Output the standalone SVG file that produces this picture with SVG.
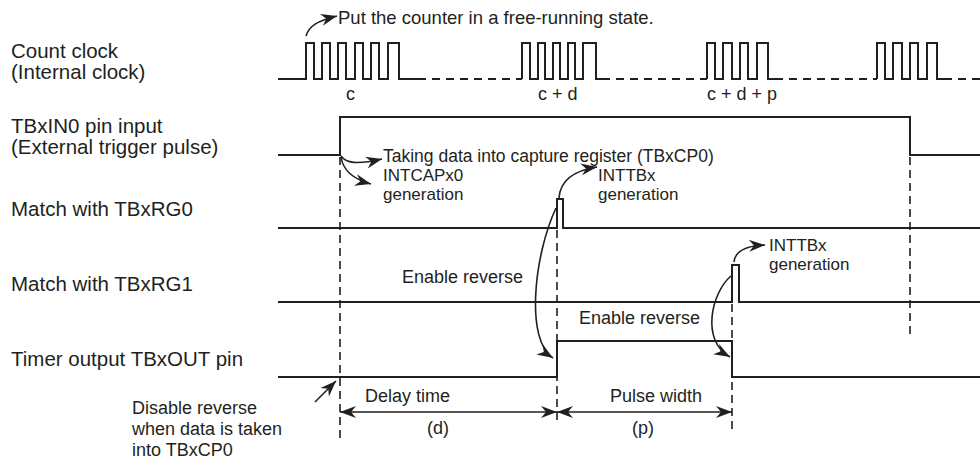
<svg xmlns="http://www.w3.org/2000/svg" width="980" height="461" viewBox="0 0 980 461">
<style>
text{font-family:"Liberation Sans",Arial,sans-serif;fill:#231f20}
.lbl{font-size:20.5px}
.ann{font-size:18px}
.stk{font-size:17px}
.sig{fill:none;stroke:#231f20;stroke-width:2;stroke-linejoin:miter}
.dsh{fill:none;stroke:#231f20;stroke-width:2;stroke-dasharray:8 6}
.vd{fill:none;stroke:#231f20;stroke-width:1.6;stroke-dasharray:8 5}
.arr{fill:none;stroke:#231f20;stroke-width:1.6;marker-end:url(#ah)}
.dim{fill:none;stroke:#231f20;stroke-width:1.6;marker-start:url(#ah);marker-end:url(#ah)}
</style>
<defs>
<marker id="ah" viewBox="-17 -7 18 14" refX="0" refY="0" markerWidth="18" markerHeight="14" markerUnits="userSpaceOnUse" orient="auto-start-reverse">
<path d="M0,0 L-16,-6 L-11,0 L-16,6 Z" fill="#231f20"/>
</marker>
</defs>
<rect width="980" height="461" fill="#fff"/>

<g id="labels">
<text class="lbl" x="11" y="58">Count clock</text>
<text class="lbl" x="11" y="79">(Internal clock)</text>
<text class="lbl" x="11" y="133">TBxIN0 pin input</text>
<text class="lbl" x="11" y="154">(External trigger pulse)</text>
<text class="lbl" x="11" y="216">Match with TBxRG0</text>
<text class="lbl" x="11" y="291">Match with TBxRG1</text>
<text class="lbl" x="11" y="366">Timer output TBxOUT pin</text>
</g>

<g id="guides">
<path class="vd" d="M340,157 V438"/>
<path class="vd" d="M557,230 V424"/>
<path class="vd" d="M732,304 V434"/>
<path class="vd" d="M910,157 V336"/>
</g>

<g id="count-clock">
<path class="sig" d="M278,79 H306 V43 H314 V79 H322 V43 H330 V79 H338 V43 H346 V79 H355 V43 H363 V79 H371 V43 H379 V79 H388 V43 H399 V79 H418"/>
<path class="dsh" d="M418,79 H522"/>
<path class="sig" d="M522,79 V43 H530 V79 H538 V43 H545 V79 H553 V43 H560 V79 H568 V43 H575 V79 H583 V43 H596 V79 H602"/>
<path class="dsh" d="M602,79 H707"/>
<path class="sig" d="M707,79 V43 H715 V79 H723 V43 H732 V79 H740 V43 H748 V79 H757 V43 H768 V79 H775"/>
<path class="dsh" d="M775,79 H877"/>
<path class="sig" d="M877,79 V43 H885 V79 H893 V43 H902 V79 H910 V43 H918 V79 H927 V43 H937 V79 H944"/>
<path class="dsh" d="M944,79 H980"/>
<text class="ann" x="346" y="100">c</text>
<text class="ann" x="538" y="100">c + d</text>
<text class="ann" x="707" y="100">c + d + p</text>
</g>

<g id="tbxin0">
<path class="sig" d="M278,155 H340 V117 H910 V155 H980"/>
</g>

<g id="tbxrg0">
<path class="sig" d="M278,228 H557 V199 H563 V228 H980"/>
</g>

<g id="tbxrg1">
<path class="sig" d="M278,302 H732 V265 H739 V302 H980"/>
</g>

<g id="tbxout">
<path class="sig" d="M278,377 H557 V341 H732 V377 H980"/>
</g>

<g id="connectors">
<path class="arr" d="M306,36 C309,26 317,21 337,16"/>
<path class="arr" d="M341,156 C346,163 356,165 382,159"/>
<path class="arr" d="M341,157 C343,170 352,179 371,184"/>
<path class="arr" d="M559,198 C560,183 571,171 597,167"/>
<path class="arr" d="M734,262 C735,251 745,246 765,245"/>
<path class="arr" d="M556,208 C534,255 525,340 553,358"/>
<path class="arr" d="M731,276 C712,292 700,340 730,357"/>
<path class="arr" d="M315,402 L336,381"/>
<path class="dim" d="M340,412 H557"/>
<path class="dim" d="M557,412 H732"/>
</g>

<g id="annotations">
<text class="ann" x="338" y="24" style="font-size:18.5px">Put the counter in a free-running state.</text>
<text class="stk" x="383" y="162" style="font-size:17.5px">Taking data into capture register (TBxCP0)</text>
<text class="stk" x="383" y="181">INTCAPx0</text>
<text class="stk" x="383" y="200">generation</text>
<text class="stk" x="598" y="181">INTTBx</text>
<text class="stk" x="598" y="200">generation</text>
<text class="stk" x="769" y="251">INTTBx</text>
<text class="stk" x="769" y="270">generation</text>
<text class="ann" x="402" y="283">Enable reverse</text>
<text class="ann" x="579" y="324">Enable reverse</text>
<text class="ann" x="365" y="402">Delay time</text>
<text class="ann" x="427" y="434">(d)</text>
<text class="ann" x="610" y="402">Pulse width</text>
<text class="ann" x="632" y="434">(p)</text>
<text class="ann" x="132" y="414">Disable reverse</text>
<text class="ann" x="132" y="435">when data is taken</text>
<text class="ann" x="132" y="456">into TBxCP0</text>
</g>
</svg>
